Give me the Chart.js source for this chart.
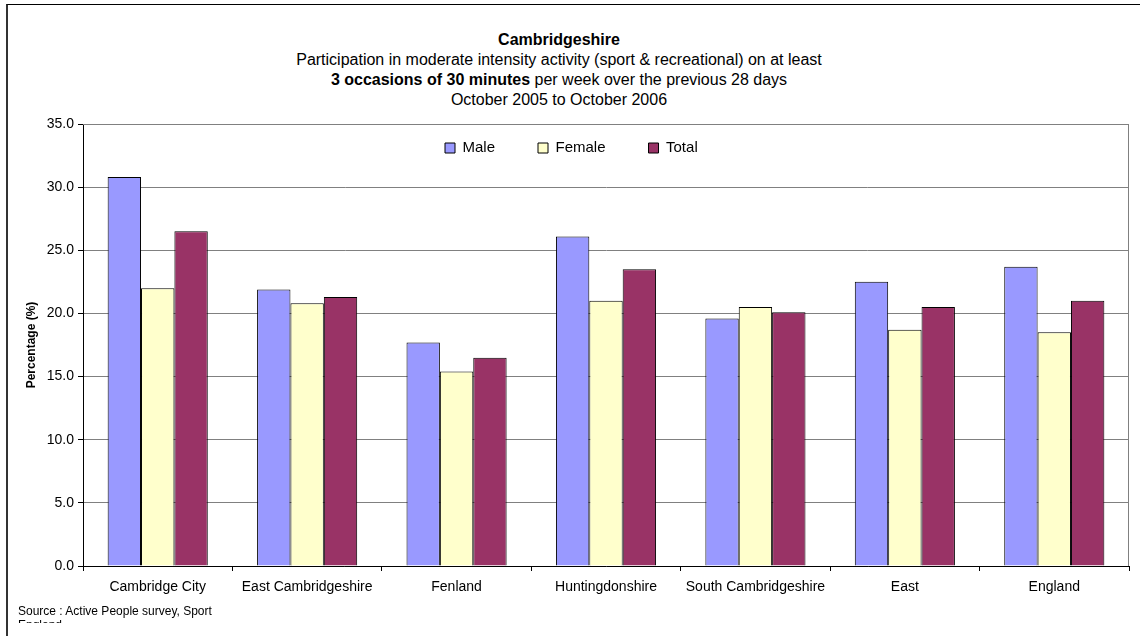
<!DOCTYPE html>
<html lang="en">
<head>
<meta charset="UTF-8">
<title>Cambridgeshire - Participation in moderate intensity activity</title>
<script src="https://cdn.jsdelivr.net/npm/chart.js@4/dist/chart.umd.min.js"></script>
<style>
    body { margin: 0; background: #fff; font-family: "Liberation Sans", Arial, sans-serif; }
    #wrap { position: relative; width: 1140px; height: 636px; overflow: hidden; }
    #frame {
        position: absolute; left: 6px; top: 4px; width: 1200px; height: 700px;
        border-left: 2px solid #333; border-top: 1px solid #000;
    }
    #titles {
        position: absolute; left: 0; top: 30px; width: 1118px;
        text-align: center; font-size: 16px; line-height: 20px; color: #000;
    }
    #source {
        position: absolute; left: 18px; top: 604px; height: 19px; width: 230px;
        overflow: hidden; font-size: 12px; line-height: 14px; color: #000;
    }
    canvas { position: absolute; left: 0; top: 0; }
</style>
</head>
<body>
<div id="wrap">
    <div id="frame"></div>
    <div id="titles">
        <div><b>Cambridgeshire</b></div>
        <div>Participation in moderate intensity activity (sport &amp; recreational) on at least</div>
        <div><b>3 occasions of 30 minutes</b> per week over the previous 28 days</div>
        <div>October 2005 to October 2006</div>
    </div>
    <canvas id="chart" width="1140" height="636"></canvas>
    <div id="source">Source : Active People survey, Sport England</div>
</div>

<script>
    const areas = ['Cambridge City', 'East Cambridgeshire', 'Fenland', 'Huntingdonshire', 'South Cambridgeshire', 'East', 'England'];
    const male = [30.8, 21.9, 17.7, 26.1, 19.6, 22.5, 23.7];
    const female = [22.0, 20.8, 15.4, 21.0, 20.5, 18.7, 18.5];
    const total = [26.5, 21.3, 16.5, 23.5, 20.1, 20.5, 21.0];

    const FONT = '"Liberation Sans", Arial, sans-serif';

    // legend takes (almost) no layout room; move it up into the plot, left of centre
    const legendSpot = {
        id: 'legendSpot',
        afterLayout(chart) {
            const lg = chart.legend;
            const pad = lg.options.labels.padding;
            lg.left = 445 - pad;
            lg.top = 140.5 - pad;
            lg.height = 100;
            lg.bottom = lg.top + lg.height;
        }
    };

    // grey plot-area frame (top and right edges)
    const plotFrame = {
        id: 'plotFrame',
        afterDraw(chart) {
            const { ctx, chartArea: a } = chart;
            ctx.save();
            ctx.strokeStyle = '#808080';
            ctx.lineWidth = 1;
            ctx.beginPath();
            ctx.moveTo(a.left, a.top + 0.5);
            ctx.lineTo(a.right - 0.5, a.top + 0.5);
            ctx.lineTo(a.right - 0.5, a.bottom);
            ctx.stroke();
            ctx.restore();
        }
    };

    new Chart(document.getElementById('chart'), {
        type: 'bar',
        data: {
            labels: areas,
            datasets: [
                { label: 'Male', data: male, backgroundColor: '#9999FF' },
                { label: 'Female', data: female, backgroundColor: '#FFFFCC' },
                { label: 'Total', data: total, backgroundColor: '#993366' }
            ].map(d => Object.assign(d, { borderColor: '#000', borderWidth: 1 }))
        },
        options: {
            responsive: false,
            animation: false,
            layout: { padding: { left: 18, right: 11, top: 123, bottom: 40 } },
            datasets: { bar: { categoryPercentage: 0.67, barPercentage: 1.0 } },
            plugins: {
                title: { display: false },
                tooltip: { enabled: false },
                legend: {
                    position: 'top',
                    align: 'start',
                    maxHeight: 1,
                    labels: {
                        boxWidth: 10, boxHeight: 10, padding: 43,
                        color: '#000', font: { family: FONT, size: 15 }
                    }
                }
            },
            scales: {
                x: {
                    afterFit: s => { s.height = 30; },
                    grid: { offset: true, drawOnChartArea: false, tickLength: 5, tickColor: '#000' },
                    border: { color: '#000', width: 1 },
                    ticks: { color: '#000', padding: 8, maxRotation: 0, font: { family: FONT, size: 14 } }
                },
                y: {
                    min: 0, max: 35,
                    afterFit: s => { s.width = 65; },
                    ticks: {
                        stepSize: 5, color: '#000', padding: 4,
                        font: { family: FONT, size: 14 },
                        callback: v => v.toFixed(1)
                    },
                    grid: { color: '#808080', tickLength: 5, tickColor: '#000' },
                    border: { color: '#000', width: 1 },
                    title: {
                        display: true, text: 'Percentage (%)', color: '#000',
                        padding: { top: 6, bottom: 0 },
                        font: { family: FONT, size: 12, weight: 'bold' }
                    }
                }
            }
        },
        plugins: [legendSpot, plotFrame]
    });
</script>
</body>
</html>
